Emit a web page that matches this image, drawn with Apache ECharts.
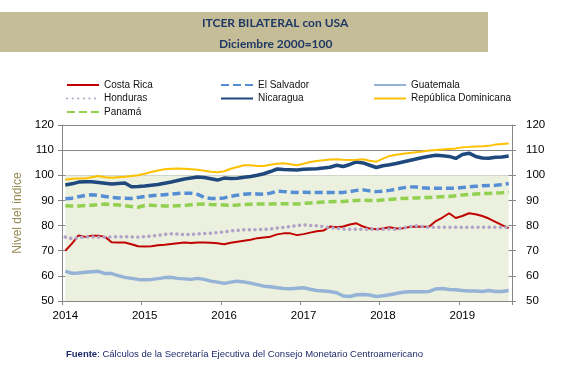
<!DOCTYPE html>
<html>
<head>
<meta charset="utf-8">
<script src="https://cdn.jsdelivr.net/npm/echarts@6/dist/echarts.min.js"></script>
<style>
html,body{margin:0;padding:0;background:#fff;}
#chart{width:565px;height:372px;}
</style>
</head>
<body>
<div id="chart"></div>
<script>
const years = ['2014','2015','2016','2017','2018','2019'];
const monthsInLastYear = 8;
const categories = [];
years.forEach(function (y, yi) {
  const n = yi === years.length - 1 ? monthsInLastYear : 12;
  for (let m = 1; m <= n; m++) categories.push(y + '-' + (m < 10 ? '0' + m : m));
});

const costaRica = [70.0,72.8,76.1,75.5,76.0,76.0,75.5,73.4,73.3,73.3,72.6,71.8,
  71.7,71.8,72.2,72.4,72.7,73.0,73.3,73.1,73.3,73.3,73.2,73.0,
  72.6,73.2,73.6,74.0,74.4,75.0,75.3,75.6,76.5,76.9,76.9,76.2,
  76.6,77.2,77.7,78.0,79.6,79.3,79.6,80.4,80.9,79.6,78.8,78.5,
  78.8,79.3,78.8,78.9,79.4,79.6,79.5,79.6,81.8,83.2,84.9,83.0,
  83.8,84.9,84.5,83.8,82.8,81.5,80.2,79.0];
const elSalvador = [90.7,90.9,91.5,92.0,92.3,92.0,91.6,91.2,91.0,90.9,90.8,91.2,
  91.6,91.9,92.1,92.3,92.5,92.8,92.9,92.9,92.4,91.2,90.8,90.8,
  91.0,91.6,92.1,92.5,92.7,92.6,92.4,92.9,93.7,93.5,93.3,93.2,
  93.3,93.2,93.2,93.2,93.2,93.2,93.2,93.5,94.0,94.2,93.8,93.5,
  93.7,94.0,94.5,95.0,95.4,95.3,95.0,94.8,94.8,94.8,94.8,94.8,
  95.1,95.4,95.6,95.8,95.9,96.0,96.3,96.7];
const guatemala = [61.9,61.0,61.1,61.4,61.6,61.8,60.9,60.9,60.1,59.4,59.0,58.6,
  58.5,58.6,58.9,59.3,59.4,59.0,58.8,58.6,59.0,58.6,57.9,57.5,
  57.0,57.5,57.9,57.6,57.1,56.5,55.9,55.7,55.3,55.0,54.9,55.1,
  55.3,54.7,54.2,54.0,53.8,53.3,52.0,51.8,52.5,52.6,52.4,51.8,
  52.1,52.5,53.0,53.5,53.7,53.7,53.7,53.8,54.8,55.0,54.6,54.5,
  54.2,54.0,54.0,53.8,54.2,53.8,53.8,54.2];
const honduras = [75.4,74.8,75.2,75.5,75.5,75.4,75.4,75.5,75.6,75.6,75.5,75.4,
  75.6,75.8,76.1,76.5,76.7,76.6,76.4,76.4,76.7,76.8,77.0,77.2,
  77.5,77.9,78.1,78.3,78.3,78.4,78.4,78.7,79.0,79.3,79.6,80.0,
  80.3,80.0,79.9,79.6,79.2,78.9,78.6,78.5,78.5,78.5,78.6,78.5,
  78.5,78.6,78.5,79.0,79.6,79.9,79.6,79.3,79.3,79.3,79.3,79.3,
  79.3,79.3,79.3,79.3,79.3,79.3,79.3,79.3];
const nicaragua = [96.1,96.6,97.3,97.4,97.4,97.1,96.8,96.5,96.7,96.9,95.4,95.5,
  95.7,96.0,96.3,96.8,97.3,97.9,98.5,98.9,99.3,99.1,98.6,98.1,
  98.9,98.7,98.8,99.2,99.5,100.0,100.6,101.5,102.5,102.3,102.2,102.1,
  102.4,102.5,102.6,102.9,103.2,104.0,103.5,104.3,105.3,104.9,104.0,103.1,
  103.8,104.2,104.7,105.3,105.9,106.5,107.1,107.6,108.0,107.8,107.5,106.7,
  108.3,108.8,107.5,106.9,106.8,107.2,107.3,107.7];
const repDominicana = [98.2,98.6,98.7,98.7,99.2,99.7,99.2,99.0,99.2,99.4,99.7,100.0,
  100.6,101.3,101.9,102.4,102.6,102.7,102.6,102.4,102.2,101.8,101.4,101.2,
  101.6,102.6,103.3,104.0,104.0,103.7,103.7,104.2,104.6,104.8,104.4,104.0,
  104.6,105.3,105.7,106.0,106.3,106.4,106.2,106.1,106.2,106.4,105.8,105.4,
  106.6,107.7,108.2,108.6,108.9,109.2,109.5,109.9,110.1,110.3,110.5,110.7,
  111.1,111.3,111.4,111.5,111.7,112.2,112.4,112.6];
const panama = [87.9,87.8,87.8,88.0,88.1,88.3,88.6,88.3,88.2,87.9,87.6,87.3,
  88.0,88.1,87.9,87.8,87.8,87.9,88.0,88.3,88.5,88.6,88.4,88.3,
  88.2,88.1,88.2,88.4,88.5,88.6,88.6,88.6,88.7,88.7,88.7,88.6,
  88.8,89.0,89.2,89.4,89.5,89.6,89.6,89.8,90.0,90.1,90.0,90.0,
  90.2,90.4,90.6,90.8,90.9,91.0,91.1,91.2,91.4,91.5,91.6,91.9,
  92.2,92.4,92.6,92.7,92.8,92.9,93.1,93.4];

const yMin = 50, yMax = 120, yStep = 10;
const shadeLow = 50, shadeHigh = 100;

const chart = echarts.init(document.getElementById('chart'), null, {renderer: 'canvas'});
const font = 'Liberation Sans, Arial, sans-serif';
const gridColor = '#868686';

function lineSeries(name, data, color, width, type, cap) {
  return {
    name: name, type: 'line', data: data, symbol: 'none', showSymbol: false,
    smooth: false, z: 3,
    lineStyle: {color: color, width: width, type: type || 'solid', cap: cap || 'butt'},
    itemStyle: {color: color}
  };
}

const yAxisCommon = {
  type: 'value', min: yMin, max: yMax, interval: yStep,
  axisLine: {show: true, lineStyle: {color: gridColor, width: 1}},
  axisTick: {show: true, length: 4, lineStyle: {color: gridColor}},
  axisLabel: {color: '#000', fontSize: 11.5, fontFamily: font}
};

const legendCommon = {
  orient: 'vertical', top: 80, itemWidth: 32, itemHeight: 10, itemGap: 3.5, padding: 0,
  itemStyle: {opacity: 0, borderWidth: 0},
  textStyle: {fontSize: 10, fontFamily: font, color: '#111'},
  selectedMode: false
};

chart.setOption({
  animation: false,
  backgroundColor: '#ffffff',
  graphic: [
    {type: 'rect', left: 0, top: 12, shape: {width: 488, height: 40}, style: {fill: '#C4BD97'}, silent: true},
    {type: 'text', left: 202, top: 17, style: {text: 'ITCER BILATERAL con USA', fill: '#1F3864', font: 'bold 12px Lato, "Open Sans", sans-serif'}},
    {type: 'text', left: 219, top: 38, style: {text: 'Diciembre 2000=100', fill: '#1F3864', font: 'bold 12px Lato, "Open Sans", sans-serif'}},
    {type: 'text', left: 66, top: 349, style: {
      text: '{b|Fuente}{r|: Cálculos de la Secretaría Ejecutiva del Consejo Monetario Centroamericano}',
      rich: {
        b: {fontWeight: 'bold', fontSize: 9.5, fontFamily: font, fill: '#1F2A6B', color: '#1F2A6B'},
        r: {fontSize: 9.5, fontFamily: font, fill: '#1F2A6B', color: '#1F2A6B'}
      }
    }}
  ],
  legend: [
    Object.assign({left: 66, data: ['Costa Rica', 'Honduras', 'Panamá']}, legendCommon),
    Object.assign({left: 220, data: ['El Salvador', 'Nicaragua']}, legendCommon),
    Object.assign({left: 373, data: ['Guatemala', 'República Dominicana']}, legendCommon)
  ],
  grid: {left: 62, right: 53, top: 125, bottom: 71, containLabel: false},
  xAxis: {
    type: 'category', data: categories, boundaryGap: true,
    axisLine: {show: true, lineStyle: {color: gridColor, width: 1}},
    axisTick: {show: true, interval: 11, length: 4, lineStyle: {color: gridColor}},
    axisLabel: {interval: 11, color: '#000', fontSize: 11.5, fontFamily: font, margin: 9,
      formatter: function (v) { return v.slice(0, 4); }},
    splitLine: {show: false}
  },
  yAxis: [
    Object.assign({position: 'left', z: 1,
      name: 'Nivel del índice', nameLocation: 'middle', nameGap: 33,
      nameTextStyle: {color: '#948A54', fontSize: 12, fontFamily: font},
      splitLine: {show: true, lineStyle: {color: gridColor, width: 1}}}, yAxisCommon,
      {axisLabel: Object.assign({}, yAxisCommon.axisLabel, {margin: 8})}),
    Object.assign({position: 'right', z: 1,
      splitLine: {show: false}}, yAxisCommon,
      {axisLabel: Object.assign({}, yAxisCommon.axisLabel, {margin: 14})})
  ],
  series: [
    {
      name: 'shade', type: 'line', data: [], z: -1, silent: true,
      markArea: {
        silent: true,
        itemStyle: {color: '#EBF1DE', opacity: 1},
        data: [[{xAxis: categories[0], yAxis: shadeLow}, {xAxis: categories[categories.length - 1], yAxis: shadeHigh}]]
      }
    },
    lineSeries('Costa Rica', costaRica, '#C00000', 2),
    lineSeries('El Salvador', elSalvador, '#558ED5', 3.5, [8, 4]),
    lineSeries('Guatemala', guatemala, '#95B3D7', 3.5),
    lineSeries('Honduras', honduras, '#B3A2C7', 3.5, [0.1, 5.5], 'round'),
    lineSeries('Nicaragua', nicaragua, '#1F497D', 3.5),
    lineSeries('República Dominicana', repDominicana, '#FFC000', 2),
    lineSeries('Panamá', panama, '#92D050', 3.5, [8, 4])
  ]
});
</script>
</body>
</html>
